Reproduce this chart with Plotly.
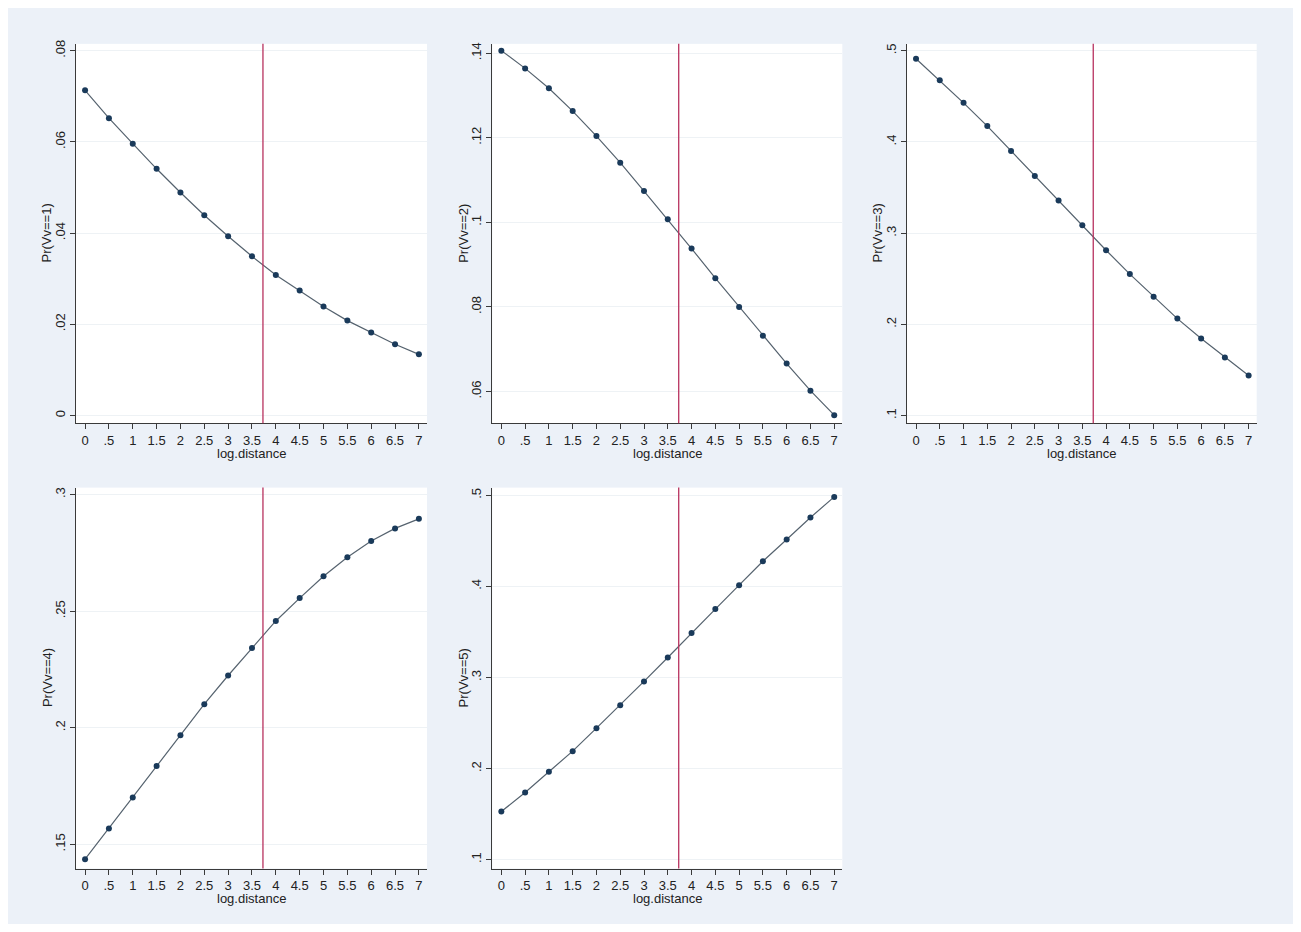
import plotly.graph_objects as go

# ---- data ----
log_distance = [0, 0.5, 1, 1.5, 2, 2.5, 3, 3.5, 4, 4.5, 5, 5.5, 6, 6.5, 7]
x_tick_vals = [0, 0.5, 1, 1.5, 2, 2.5, 3, 3.5, 4, 4.5, 5, 5.5, 6, 6.5, 7]
x_tick_text = ["0", ".5", "1", "1.5", "2", "2.5", "3", "3.5", "4", "4.5", "5", "5.5", "6", "6.5", "7"]
cutoff = 3.73

pr_vv1 = [0.0713, 0.0652, 0.0596, 0.0541, 0.0489, 0.0439, 0.0393, 0.0349,
          0.0308, 0.0274, 0.0239, 0.0208, 0.0182, 0.0156, 0.0134]
pr_vv2 = [0.1406, 0.1364, 0.1317, 0.1263, 0.1204, 0.1141, 0.1074, 0.1007,
          0.0938, 0.0868, 0.0800, 0.0732, 0.0666, 0.0602, 0.0544]
pr_vv3 = [0.4913, 0.4676, 0.4429, 0.4174, 0.3901, 0.3628, 0.3359, 0.3086,
          0.2813, 0.2551, 0.2303, 0.2063, 0.1844, 0.1637, 0.1440]
pr_vv4 = [0.1436, 0.1568, 0.1701, 0.1836, 0.1968, 0.2101, 0.2224, 0.2342,
          0.2458, 0.2556, 0.2650, 0.2731, 0.2801, 0.2855, 0.2896]
pr_vv5 = [0.1528, 0.1736, 0.1965, 0.2191, 0.2443, 0.2694, 0.2956, 0.3219,
          0.3488, 0.3750, 0.4013, 0.4275, 0.4515, 0.4756, 0.4982]

series = [pr_vv1, pr_vv2, pr_vv3, pr_vv4, pr_vv5]
y_titles = ["Pr(Vv==1)", "Pr(Vv==2)", "Pr(Vv==3)", "Pr(Vv==4)", "Pr(Vv==5)"]
y_tick_vals = [
    [0, 0.02, 0.04, 0.06, 0.08],
    [0.06, 0.08, 0.10, 0.12, 0.14],
    [0.1, 0.2, 0.3, 0.4, 0.5],
    [0.15, 0.20, 0.25, 0.30],
    [0.1, 0.2, 0.3, 0.4, 0.5],
]
y_tick_text = [
    ["0", ".02", ".04", ".06", ".08"],
    [".06", ".08", ".1", ".12", ".14"],
    [".1", ".2", ".3", ".4", ".5"],
    [".15", ".2", ".25", ".3"],
    [".1", ".2", ".3", ".4", ".5"],
]
y_ranges = [
    [-0.0017, 0.0815],
    [0.0525, 0.1422],
    [0.0916, 0.5076],
    [0.1396, 0.3030],
    [0.0902, 0.5084],
]
x_range = [-0.19, 7.17]

# ---- layout geometry (pixels, page coordinates; page body has an 8px margin) ----
OFF = 8
W, H = 1285, 916
cols_px = [(76, 427), (492.3, 842.3), (907, 1256.7)]
rows_px = [(40, 421), (485.7, 868.3)]
panel_pos = [(0, 0), (0, 1), (0, 2), (1, 0), (1, 1)]

FONT = "Liberation Sans Narrow, Arial Narrow, Liberation Sans, Arial, sans-serif"
BG = "#ECF1F8"
NAVY = "#1a3a5a"
LINE = "#56636f"
VLINE = "#b8325f"
AXIS = "#3a3a3a"
GRID = "#EEF2F5"
TXT = "#222222"


def fx(p):
    return (p - OFF) / W


def fy(p):
    return 1 - (p - OFF) / H


fig = go.Figure()
layout = dict(
    width=W, height=H,
    margin=dict(l=0, r=0, t=0, b=0),
    paper_bgcolor=BG,
    plot_bgcolor="white",
    showlegend=False,
    font=dict(family=FONT, size=13, color=TXT),
)
shapes = []
annotations = []

for i, (vals, (r, c)) in enumerate(zip(series, panel_pos)):
    n = "" if i == 0 else str(i + 1)
    xa, ya = "x" + n, "y" + n
    x0p, x1p = cols_px[c]
    y0p, y1p = rows_px[r]
    xdom = [fx(x0p), fx(x1p)]
    ydom = [fy(y1p), fy(y0p)]

    fig.add_trace(go.Scatter(
        x=log_distance, y=vals, mode="lines+markers",
        line=dict(color=LINE, width=1.2),
        marker=dict(color=NAVY, size=6, symbol="circle"),
        xaxis=xa, yaxis=ya, hoverinfo="x+y"))

    layout["xaxis" + n] = dict(
        domain=xdom, anchor=ya, range=x_range,
        tickmode="array", tickvals=x_tick_vals, ticktext=x_tick_text,
        ticks="outside", ticklen=5, tickcolor=AXIS, tickwidth=1,
        showline=True, linecolor=AXIS, linewidth=1,
        showgrid=False, zeroline=False,
        tickfont=dict(family=FONT, size=13, color=TXT),
    )
    layout["yaxis" + n] = dict(
        domain=ydom, anchor=xa, range=y_ranges[i],
        tickmode="array", tickvals=y_tick_vals[i], ticktext=y_tick_text[i],
        tickangle=-90,
        ticks="outside", ticklen=5, tickcolor=AXIS, tickwidth=1,
        showline=True, linecolor=AXIS, linewidth=1,
        showgrid=True, gridcolor=GRID, gridwidth=1, zeroline=False,
        tickfont=dict(family=FONT, size=13, color=TXT),
    )

    # cutoff line
    shapes.append(dict(type="line", xref=xa, yref=ya + " domain",
                       x0=cutoff, x1=cutoff, y0=0, y1=1,
                       line=dict(color=VLINE, width=1.3)))

    # axis titles
    annotations.append(dict(
        text="log.distance", xref="paper", yref="paper",
        x=fx((x0p + x1p) / 2), y=fy(y1p + 30),
        showarrow=False, xanchor="center", yanchor="middle",
        font=dict(family=FONT, size=13, color=TXT)))
    annotations.append(dict(
        text=y_titles[i], xref="paper", yref="paper",
        x=fx(x0p - 29), y=fy((y0p + y1p) / 2),
        textangle=-90, showarrow=False, xanchor="center", yanchor="middle",
        font=dict(family=FONT, size=13, color=TXT)))

layout["shapes"] = shapes
layout["annotations"] = annotations
fig.update_layout(**layout)
fig.write_html("out.html")
